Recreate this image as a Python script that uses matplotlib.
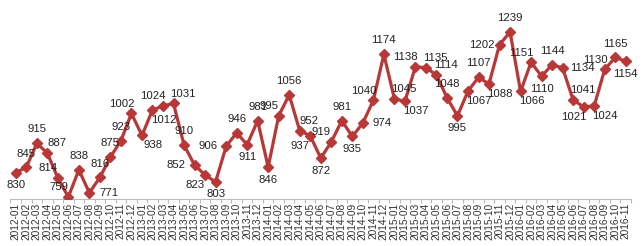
import matplotlib
matplotlib.use("Agg")
import matplotlib.pyplot as plt

months = [f"{y}-{m:02d}" for y in range(2012, 2017) for m in range(1, 13)][:59]
values = [830, 845, 915, 887, 814, 759, 838, 771, 816, 875, 923, 1002,
          938, 1012, 1024, 1031, 910, 852, 823, 803, 906, 946, 911, 981,
          846, 995, 1056, 952, 937, 872, 919, 981, 935, 974, 1040, 1174,
          1045, 1037, 1138, 1135, 1114, 1048, 995, 1067, 1107, 1088, 1202, 1239,
          1066, 1151, 1110, 1144, 1134, 1041, 1021, 1024, 1130, 1165, 1154]

label_pos = ['b', 'a', 'a', 'ar', 'al', 'al', 'a', 'r', 'a', 'a', 'a', 'al',
             'br', 'br', 'al', 'ar', 'a', 'l', 'bl', 'b', 'l', 'a', 'b', 'a',
             'b', 'al', 'a', 'ar', 'bl', 'b', 'al', 'a', 'b', 'r', 'al', 'a',
             'ar', 'br', 'al', 'ar', 'ar', 'a', 'b', 'br', 'a', 'br', 'l', 'a',
             'br', 'al', 'b', 'a', 'r', 'ar', 'bl', 'br', 'al', 'a', 'b']

offsets = {'a': (0, 10), 'b': (0, -9), 'l': (-13, 0), 'r': (14, 0),
           'al': (-7, 7), 'ar': (7, 7), 'bl': (-7, -7), 'br': (8, -7)}

plt.rcParams['font.family'] = ['Liberation Sans', 'DejaVu Sans']

fig = plt.figure(figsize=(6.42, 2.46), dpi=100)
ax = fig.add_axes([10.5 / 642, (246 - 198.5) / 246, (631 - 10.5) / 642, 198.5 / 246])
x = list(range(len(values)))
color = '#B83838'
ax.plot(x, values, color=color, lw=2.3, marker='D', ms=5.5, mec=color, mfc=color, zorder=3)

for xi, v, p in zip(x, values, label_pos):
    dx, dy = offsets[p]
    ax.annotate(str(v), (xi, v), xytext=(dx, dy), textcoords='offset points',
                ha='center', va='center', fontsize=8.2, color='#222222')

ax.set_xlim(-0.5, len(values) - 0.5)
ax.set_ylim(754.6, 1332)
ax.set_xticks(x)
ax.set_xticklabels(months, rotation=90, fontsize=7.3, color='#333333')
ax.set_xticks([i - 0.5 for i in range(len(values) + 1)], minor=True)
ax.tick_params(axis='x', which='major', length=0, pad=3)
ax.tick_params(axis='x', which='minor', length=3, color='#BBBBBB', width=0.8)
ax.set_yticks([])
for s in ['top', 'right', 'left']:
    ax.spines[s].set_visible(False)
ax.spines['bottom'].set_color('#BBBBBB')
ax.spines['bottom'].set_linewidth(0.8)

fig.savefig('out.png', dpi=100)
